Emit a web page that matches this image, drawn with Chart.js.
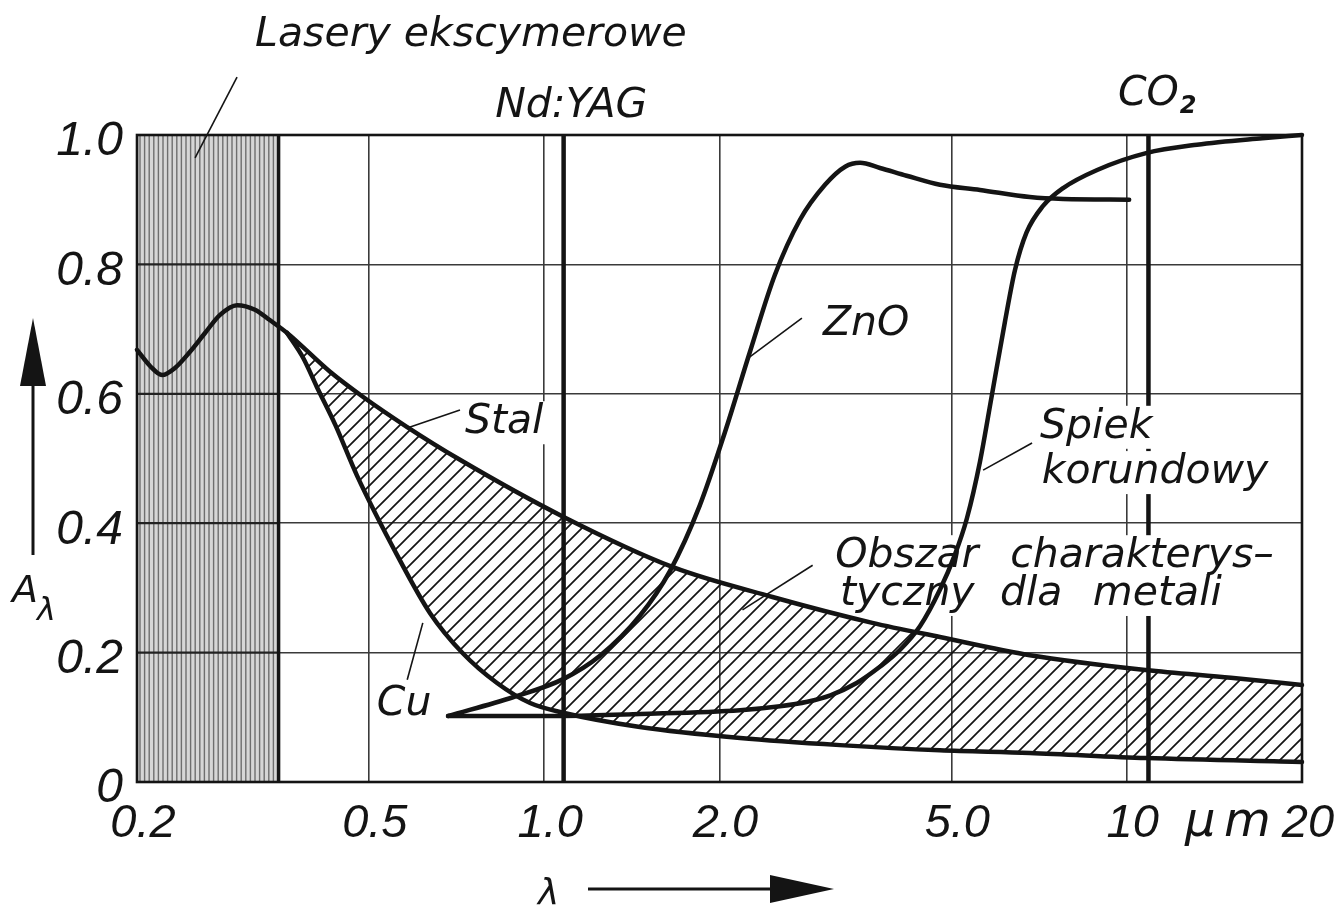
<!DOCTYPE html>
<html>
<head>
<meta charset="utf-8">
<script src="https://cdn.jsdelivr.net/npm/chart.js@4.4.1/dist/chart.umd.min.js"></script>
<style>
  html, body { margin: 0; padding: 0; background: #ffffff; }
  #wrap { width: 1337px; height: 912px; position: relative; }
</style>
</head>
<body>
<div id="wrap"><canvas id="c"></canvas></div>
<script>
// ---------- data ----------
const xTickValues = [0.2, 0.5, 1, 2, 5, 10, 20];
const xTickLabels = ['0.2', '0.5', '1.0', '2.0', '5.0', '10', '20'];
const yTickValues = [0, 0.2, 0.4, 0.6, 0.8, 1.0];
const yTickLabels = ['0', '0.2', '0.4', '0.6', '0.8', '1.0'];

// wavelength [µm] and absorptance A_lambda
const stalX = [0.2, 0.2106, 0.2208, 0.2324, 0.2466, 0.2617, 0.2777, 0.297, 0.3188, 0.338, 0.362, 0.429, 0.489, 0.581, 0.717, 1.078, 1.664, 2.466, 3.66, 4.78, 6.82, 10.8, 15.1, 20];
const stalY = [0.668, 0.643, 0.629, 0.640, 0.665, 0.694, 0.722, 0.737, 0.730, 0.714, 0.694, 0.634, 0.595, 0.549, 0.498, 0.410, 0.332, 0.286, 0.246, 0.224, 0.196, 0.173, 0.161, 0.150];

const cuX = [0.362, 0.386, 0.407, 0.438, 0.477, 0.559, 0.637, 0.725, 0.83, 0.946, 1.078, 1.46, 2.17, 3.22, 4.78, 6.82, 10.8, 20];
const cuY = [0.694, 0.655, 0.611, 0.552, 0.474, 0.351, 0.261, 0.199, 0.153, 0.122, 0.107, 0.085, 0.068, 0.057, 0.049, 0.045, 0.037, 0.031];

const znoX = [0.684, 0.884, 1.078, 1.247, 1.460, 1.644, 1.851, 2.044, 2.256, 2.490, 2.749, 3.035, 3.286, 3.486, 3.772, 4.19, 4.78, 5.6, 6.82, 7.78, 10.1];
const znoY = [0.102, 0.131, 0.159, 0.195, 0.257, 0.326, 0.428, 0.541, 0.665, 0.784, 0.869, 0.923, 0.951, 0.957, 0.949, 0.937, 0.923, 0.915, 0.904, 0.901, 0.900];

const spiekX = [0.684, 1.078, 1.46, 2.17, 2.54, 2.83, 3.10, 3.44, 3.77, 4.08, 4.42, 4.78, 5.07, 5.32, 5.60, 5.87, 6.18, 6.43, 6.73, 7.18, 7.78, 8.9, 10.8, 13.2, 17.1, 20];
const spiekY = [0.102, 0.102, 0.105, 0.111, 0.117, 0.124, 0.134, 0.153, 0.178, 0.204, 0.241, 0.297, 0.351, 0.408, 0.495, 0.598, 0.711, 0.791, 0.849, 0.890, 0.918, 0.946, 0.972, 0.985, 0.995, 1.0];

// laser wavelengths [µm]
const excimerBand = [0.2, 0.35];
const ndYag = 1.08;
const co2 = 10.9;

// annotation anchors in data units (lambda, A)
const plotLabels = [
  { text: 'ZnO', lam: 3.01, a: 0.691 },
  { text: 'Stal', lam: 0.731, a: 0.539 },
  { text: 'Cu', lam: 0.516, a: 0.1036 },
  { text: 'Spiek', lam: 7.10, a: 0.532 },
  { text: 'korundowy', lam: 7.15, a: 0.462 },
  { text: 'Obszar', lam: 3.16, a: 0.332 },
  { text: 'charakterys\u2013', lam: 6.31, a: 0.332 },
  { text: 'tyczny', lam: 3.22, a: 0.2736 },
  { text: 'dla', lam: 6.06, a: 0.2736 },
  { text: 'metali', lam: 8.75, a: 0.2736 }
];
const topLabels = [
  { text: 'Lasery ekscymerowe', lam: 0.319, a: 1.138 },
  { text: 'Nd:YAG', lam: 0.824, a: 1.028 }
];
const co2Label = { text: 'CO', sub: '2', lam: 9.66, a: 1.046 };
const leaders = [
  [0.297, 1.0896, 0.2516, 0.9645],
  [2.77, 0.717, 2.24, 0.655],
  [0.717, 0.575, 0.582, 0.547],
  [0.619, 0.246, 0.582, 0.158],
  [6.88, 0.524, 5.67, 0.482],
  [2.89, 0.335, 2.19, 0.266]
];

// ---------- styles ----------
const tickFamily = '"Liberation Sans", "DejaVu Sans", sans-serif';
const labelFont = 'italic 41px "DejaVu Sans", sans-serif';
const INK = '#141414';

function makeHatch() {
  const s = 15;
  const cv = document.createElement('canvas');
  cv.width = s; cv.height = s;
  const g = cv.getContext('2d');
  g.strokeStyle = INK;
  g.lineWidth = 1.7;
  g.beginPath();
  g.moveTo(-2, s + 2); g.lineTo(s + 2, -2);
  g.moveTo(-2, 2); g.lineTo(2, -2);
  g.moveTo(s - 2, s + 2); g.lineTo(s + 2, s - 2);
  g.stroke();
  return g.createPattern(cv, 'repeat');
}

const toPts = (xs, ys) => xs.map((x, i) => ({ x: x, y: ys[i] }));
const startIdx = stalX.indexOf(cuX[0]);
const regionPts = toPts(stalX.slice(startIdx), stalY.slice(startIdx));

function lineDs(label, xs, ys) {
  return {
    label: label, data: toPts(xs, ys), borderColor: INK, borderWidth: 4.5,
    pointRadius: 0, fill: false, cubicInterpolationMode: 'monotone', clip: false,
    borderCapStyle: 'round', borderJoinStyle: 'round'
  };
}

function P(chart, lam, a) {
  return [chart.scales.x.getPixelForValue(lam), chart.scales.y.getPixelForValue(a)];
}

const decor = {
  id: 'decor',
  beforeDatasetsDraw(chart) {
    const ctx = chart.ctx;
    const area = chart.chartArea;
    const xs = chart.scales.x, ys = chart.scales.y;
    ctx.save();
    const bx0 = xs.getPixelForValue(excimerBand[0]);
    const bx1 = xs.getPixelForValue(excimerBand[1]);
    ctx.fillStyle = '#d6d6d6';
    ctx.fillRect(bx0, area.top, bx1 - bx0, area.bottom - area.top);
    ctx.strokeStyle = '#6e6e6e';
    ctx.lineWidth = 1.4;
    for (let x = bx0 + 3; x < bx1 - 1; x += 4.6) {
      ctx.beginPath(); ctx.moveTo(x, area.top); ctx.lineTo(x, area.bottom); ctx.stroke();
    }
    ctx.strokeStyle = '#222';
    ctx.lineWidth = 2.2;
    yTickValues.forEach(v => {
      const y = ys.getPixelForValue(v);
      ctx.beginPath(); ctx.moveTo(bx0, y); ctx.lineTo(bx1, y); ctx.stroke();
    });
    ctx.strokeStyle = INK;
    ctx.lineWidth = 3.5;
    ctx.beginPath(); ctx.moveTo(bx1, area.top); ctx.lineTo(bx1, area.bottom); ctx.stroke();
    ctx.lineWidth = 4.5;
    [ndYag, co2].forEach(v => {
      const x = xs.getPixelForValue(v);
      ctx.beginPath(); ctx.moveTo(x, area.top); ctx.lineTo(x, area.bottom); ctx.stroke();
    });
    ctx.lineWidth = 2.6;
    ctx.strokeRect(area.left, area.top, area.right - area.left, area.bottom - area.top);
    ctx.font = labelFont;
    ctx.fillStyle = '#ffffff';
    plotLabels.forEach(l => {
      const [x, y] = P(chart, l.lam, l.a);
      const w = ctx.measureText(l.text).width;
      ctx.fillRect(x - 3, y - 32, w + 8, 43);
    });
    ctx.restore();
  },
  afterDatasetsDraw(chart) {
    const ctx = chart.ctx;
    const xs = chart.scales.x;
    ctx.save();
    ctx.strokeStyle = INK;
    ctx.lineWidth = 1.6;
    leaders.forEach(l => {
      const [x0, y0] = P(chart, l[0], l[1]);
      const [x1, y1] = P(chart, l[2], l[3]);
      ctx.beginPath(); ctx.moveTo(x0, y0); ctx.lineTo(x1, y1); ctx.stroke();
    });
    ctx.fillStyle = INK;
    ctx.font = labelFont;
    ctx.textBaseline = 'alphabetic';
    ctx.textAlign = 'left';
    plotLabels.concat(topLabels).forEach(l => {
      const [x, y] = P(chart, l.lam, l.a);
      ctx.fillText(l.text, x, y);
    });
    const [cx, cy] = P(chart, co2Label.lam, co2Label.a);
    ctx.fillText(co2Label.text, cx, cy);
    const cw = ctx.measureText(co2Label.text).width;
    ctx.font = 'italic bold 24px "DejaVu Sans", sans-serif';
    ctx.fillText(co2Label.sub, cx + cw + 1, cy + 8);

    // unit between 10 and 20
    ctx.font = 'italic 48px "DejaVu Sans", sans-serif';
    ctx.textBaseline = 'middle';
    ctx.fillText('\u00b5', 1185, xs.top + 18 + 24);
    ctx.fillText('m', 1224, xs.top + 18 + 24);

    // y-axis arrow and symbol
    ctx.lineWidth = 3;
    ctx.beginPath(); ctx.moveTo(33, 555); ctx.lineTo(33, 370); ctx.stroke();
    ctx.beginPath(); ctx.moveTo(33, 318); ctx.lineTo(20, 386); ctx.lineTo(46, 386); ctx.closePath(); ctx.fill();
    ctx.textBaseline = 'alphabetic';
    ctx.font = 'italic 38px "DejaVu Sans", sans-serif';
    ctx.fillText('A', 12, 602);
    ctx.font = 'italic 32px "DejaVu Sans", sans-serif';
    ctx.fillText('\u03bb', 37, 620);

    // x-axis arrow and symbol
    ctx.font = 'italic 36px "DejaVu Sans", sans-serif';
    ctx.fillText('\u03bb', 538, 904);
    ctx.beginPath(); ctx.moveTo(588, 889); ctx.lineTo(775, 889); ctx.stroke();
    ctx.beginPath(); ctx.moveTo(834, 889); ctx.lineTo(770, 875); ctx.lineTo(770, 903); ctx.closePath(); ctx.fill();
    ctx.restore();
  }
};

const hatch = makeHatch();

new Chart(document.getElementById('c'), {
  type: 'line',
  data: {
    datasets: [
      {
        label: 'Obszar charakterystyczny dla metali', data: regionPts, borderWidth: 0,
        borderColor: 'rgba(0,0,0,0)', pointRadius: 0, backgroundColor: hatch,
        fill: { target: 2 }, cubicInterpolationMode: 'monotone', order: 10
      },
      lineDs('Stal', stalX, stalY),
      lineDs('Cu', cuX, cuY),
      lineDs('ZnO', znoX, znoY),
      lineDs('Spiek korundowy', spiekX, spiekY)
    ]
  },
  options: {
    responsive: true,
    maintainAspectRatio: false,
    animation: false,
    events: [],
    layout: { padding: { top: 135, right: 35, left: 0, bottom: 0 } },
    plugins: { legend: { display: false }, tooltip: { enabled: false } },
    scales: {
      x: {
        type: 'logarithmic', min: 0.2, max: 20,
        afterBuildTicks: s => { s.ticks = xTickValues.map(v => ({ value: v })); },
        afterFit: s => { s.height = 130; s.paddingLeft = 0; s.paddingRight = 0; },
        grid: { color: '#3a3a3a', lineWidth: 1.6, drawTicks: false },
        border: { display: false },
        ticks: {
          autoSkip: false, maxRotation: 0, minRotation: 0, padding: 18, labelOffset: 6,
          color: INK,
          font: { family: tickFamily, size: 47, style: 'italic', lineHeight: 1 },
          callback: (v, i) => xTickLabels[i]
        }
      },
      y: {
        min: 0, max: 1,
        afterBuildTicks: s => { s.ticks = yTickValues.map(v => ({ value: v })); },
        afterFit: s => { s.width = 137; s.paddingTop = 0; s.paddingBottom = 0; },
        grid: { color: '#3a3a3a', lineWidth: 1.6, drawTicks: false },
        border: { display: false },
        ticks: {
          padding: 14, labelOffset: 7, color: INK,
          font: { family: tickFamily, size: 48, style: 'italic', lineHeight: 1 },
          callback: (v, i) => yTickLabels[i]
        }
      }
    }
  },
  plugins: [decor]
});
</script>
</body>
</html>
